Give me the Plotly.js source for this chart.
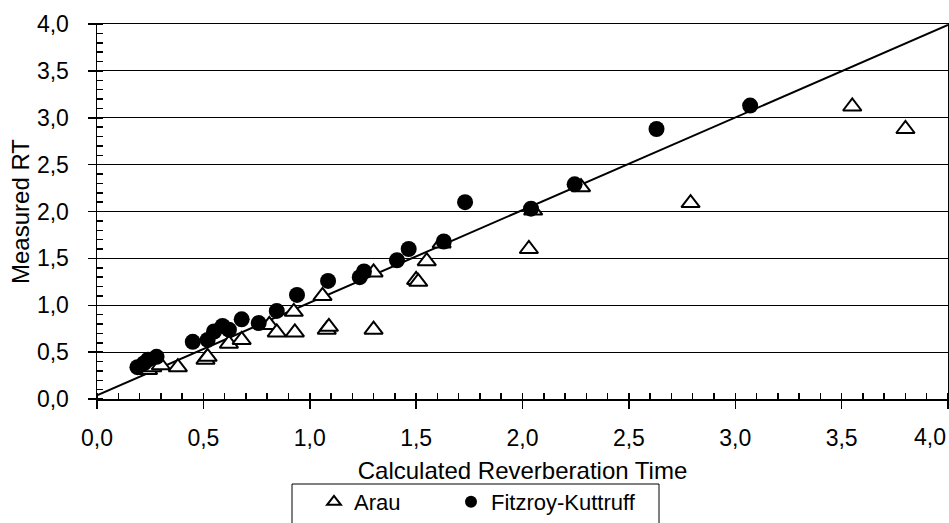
<!DOCTYPE html>
<html>
<head>
<meta charset="utf-8">
<script src="https://cdn.plot.ly/plotly-3.0.1.min.js"></script>
<style>
  html, body { margin: 0; padding: 0; background: #ffffff; }
  #chart { width: 949px; height: 523px; }
</style>
</head>
<body>
<div id="chart"></div>
<script>
// Arau (open triangles)
const arauX = [0.24, 0.26, 0.30, 0.38, 0.51, 0.52, 0.62, 0.68, 0.81, 0.845, 0.925, 0.93, 1.06, 1.08, 1.09, 1.30, 1.30, 1.50, 1.51, 1.55, 1.62, 2.03, 2.05, 2.275, 2.79, 3.55, 3.80];
const arauY = [0.31, 0.34, 0.36, 0.34, 0.42, 0.45, 0.59, 0.63, 0.79, 0.71, 0.93, 0.71, 1.10, 0.74, 0.77, 0.74, 1.35, 1.27, 1.25, 1.47, 1.66, 1.60, 2.01, 2.26, 2.09, 3.12, 2.88];

// Fitzroy-Kuttruff (filled circles)
const fkX = [0.19, 0.22, 0.24, 0.28, 0.45, 0.52, 0.55, 0.59, 0.62, 0.68, 0.76, 0.845, 0.94, 1.086, 1.235, 1.255, 1.41, 1.465, 1.63, 1.73, 2.04, 2.245, 2.63, 3.07];
const fkY = [0.34, 0.38, 0.42, 0.45, 0.61, 0.63, 0.72, 0.78, 0.74, 0.85, 0.81, 0.94, 1.11, 1.26, 1.30, 1.36, 1.48, 1.60, 1.68, 2.10, 2.03, 2.29, 2.88, 3.13];

// Reference line
const lineX = [0, 4];
const lineY = [0.04, 3.99];

// Tick values / labels
const tickVals = [0, 0.5, 1, 1.5, 2, 2.5, 3, 3.5, 4];
const xTickLabels = ['0,0', '0,5', '1,0', '1,5', '2,0', '2,5', '3,0', '3,5', '4,0'];
const yTickLabels = ['0,0', '0,5', '1,0', '1,5', '2,0', '2,5', '3,0', '3,5', '4,0'];

const seriesNames = ['Arau', 'Fitzroy-Kuttruff'];
const xTitle = 'Calculated Reverberation Time';
const yTitle = 'Measured RT';

const FONT = 'Liberation Sans, Arial, sans-serif';

// plot-area geometry in pixels (for converting legend placement to paper coords)
const W = 949, H = 523;
const M = { l: 97, r: 1, t: 24, b: 124 };
const pw = W - M.l - M.r, ph = H - M.t - M.b;
const px = v => (v - M.l) / pw;
const py = v => (H - M.b - v) / ph;

const traces = [
  {
    x: lineX, y: lineY, type: 'scatter', mode: 'lines',
    line: { color: '#000000', width: 2 },
    showlegend: false, hoverinfo: 'skip'
  },
  {
    x: arauX, y: arauY, type: 'scatter', mode: 'markers', name: seriesNames[0],
    legend: 'legend',
    marker: { symbol: 'triangle-up', size: 16, color: '#ffffff', line: { color: '#000000', width: 2 } }
  },
  {
    x: fkX, y: fkY, type: 'scatter', mode: 'markers', name: seriesNames[1],
    legend: 'legend2',
    marker: { symbol: 'circle', size: 16, color: '#000000', line: { width: 0 } }
  }
];

const axisCommon = {
  showline: true, linecolor: '#000000', linewidth: 1.5, mirror: true,
  ticks: 'outside', ticklen: 8, tickwidth: 1.5, tickcolor: '#000000',
  tickfont: { family: FONT, size: 23, color: '#000000' },
  tickmode: 'array', tickvals: tickVals,
  zeroline: false,
  range: [0, 4],
  minor: { ticks: 'inside', ticklen: 6, tickwidth: 1.5, tickcolor: '#000000', tickmode: 'linear', tick0: 0, dtick: 0.1, showgrid: false }
};

const legendCommon = {
  orientation: 'h',
  xanchor: 'left',
  y: py(502), yanchor: 'middle',
  borderwidth: 0,
  bgcolor: 'rgba(0,0,0,0)',
  itemsizing: 'constant',
  font: { family: FONT, size: 22, color: '#000000' }
};

const layout = {
  width: W, height: H,
  paper_bgcolor: '#ffffff', plot_bgcolor: '#ffffff',
  margin: Object.assign({ autoexpand: false }, M),
  font: { family: FONT, color: '#000000' },
  xaxis: Object.assign({}, axisCommon, {
    // last label is drawn as an annotation so it can sit inside the canvas, as in the original
    ticktext: xTickLabels.slice(0, -1).concat(['']),
    ticklabelstandoff: 10,
    showgrid: false,
    title: { text: xTitle, font: { family: FONT, size: 24, color: '#000000' }, standoff: 12 }
  }),
  yaxis: Object.assign({}, axisCommon, {
    ticktext: yTickLabels,
    ticklabelstandoff: 14,
    showgrid: true, gridcolor: '#000000', gridwidth: 1,
    title: { text: yTitle, font: { family: FONT, size: 24, color: '#000000' }, standoff: 0 }
  }),
  annotations: [{
    text: xTickLabels[xTickLabels.length - 1],
    xref: 'x', x: tickVals[tickVals.length - 1], xanchor: 'right',
    yref: 'paper', y: py(437), yanchor: 'middle',
    showarrow: false,
    font: { family: FONT, size: 23, color: '#000000' }
  }],
  showlegend: true,
  legend: Object.assign({}, legendCommon, { x: px(314) }),
  legend2: Object.assign({}, legendCommon, { x: px(451) }),
  shapes: [{
    type: 'rect', xref: 'paper', yref: 'paper',
    x0: px(292), x1: px(659), y0: py(484), y1: py(560),
    line: { color: '#000000', width: 1 }, fillcolor: 'rgba(0,0,0,0)', layer: 'above'
  }]
};

Plotly.newPlot('chart', traces, layout, { displayModeBar: false, staticPlot: true });
</script>
</body>
</html>
